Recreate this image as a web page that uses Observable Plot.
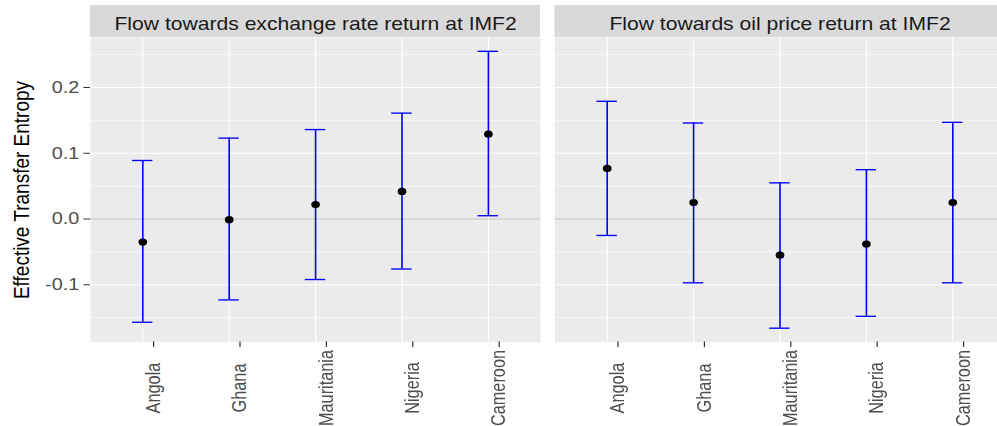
<!DOCTYPE html>
<html><head><meta charset="utf-8">
<script src="https://cdn.jsdelivr.net/npm/d3@7"></script>
<script src="https://cdn.jsdelivr.net/npm/@observablehq/plot@0.6"></script>
<style>
html,body{margin:0;padding:0;background:#fff;overflow:hidden;}
#chart{transform:scaleX(1.2);transform-origin:0 0;width:838px;height:426px;}
</style></head><body><div id="chart"></div>
<script>
const countries = ["Angola", "Ghana", "Mauritania", "Nigeria", "Cameroon"];
const panels = ["Flow towards exchange rate return at IMF2", "Flow towards oil price return at IMF2"];
const exchangeEst   = [-0.035, -0.001, 0.022, 0.042, 0.129];
const exchangeLower = [-0.157, -0.123, -0.092, -0.076, 0.005];
const exchangeUpper = [0.089, 0.123, 0.136, 0.161, 0.255];
const oilEst   = [0.077, 0.025, -0.055, -0.038, 0.025];
const oilLower = [-0.025, -0.097, -0.166, -0.148, -0.097];
const oilUpper = [0.179, 0.146, 0.055, 0.075, 0.147];
const yTicks = [-0.1, 0, 0.1, 0.2];
const yMinor = [-0.15, -0.05, 0.05, 0.15, 0.25];
const yTitle = "Effective Transfer Entropy";

const rows = [];
[[exchangeEst, exchangeLower, exchangeUpper], [oilEst, oilLower, oilUpper]].forEach(([e, l, u], p) =>
  countries.forEach((c, i) => rows.push({panel: panels[p], country: c, est: e[i], lower: l[i], upper: u[i]})));

const W = 838, H = 426;
const plot = Plot.plot({
  width: W, height: H,
  marginLeft: 75, marginRight: 0, marginTop: 37, marginBottom: 84.5,
  style: {fontFamily: '"Liberation Sans", Arial, sans-serif', fontSize: "16.5px", background: "white", color: "#4D4D4D", overflow: "visible"},
  fx: {domain: panels, paddingInner: 0.031, paddingOuter: 0},
  x: {type: "band", domain: countries, paddingInner: 0.76, paddingOuter: 0.48},
  y: {domain: [-0.187, 0.276]},
  marks: [
    Plot.frame({fill: "#EBEBEB", stroke: "none"}),
    Plot.gridY(yMinor, {stroke: "white", strokeOpacity: 1, strokeWidth: 0.6}),
    Plot.gridY(yTicks, {stroke: "white", strokeOpacity: 1, strokeWidth: 1.1}),
    Plot.gridX({stroke: "white", strokeOpacity: 1, strokeWidth: 0.95}),
    Plot.ruleY([0], {stroke: "#BEBEBE", strokeWidth: 1.1}),
    Plot.ruleX(rows, {fx: "panel", x: "country", y1: "lower", y2: "upper", stroke: "#0000FF", strokeWidth: 1.35}),
    Plot.tickY(rows, {fx: "panel", x: "country", y: "upper", stroke: "#0000FF", strokeWidth: 1.35}),
    Plot.tickY(rows, {fx: "panel", x: "country", y: "lower", stroke: "#0000FF", strokeWidth: 1.35}),
    Plot.dot(rows, {fx: "panel", x: "country", y: "est", r: 3.6, fill: "black", stroke: "none"}),
    Plot.axisY(yTicks, {tickFormat: d => d.toFixed(1), label: null, tickSize: 5.5, tickPadding: 4, stroke: "#333333", fill: "#4D4D4D", fontSize: 16.5}),
    Plot.axisX({tickSize: 5.5, tickRotate: -90, textAnchor: "middle", tickPadding: 40.5, dx: 9, label: null, stroke: "#333333", fill: "#4D4D4D", fontSize: 16.3}),
    Plot.axisFx({anchor: "top", label: null, tickSize: 0, tickPadding: 8, fontSize: 17.6, fill: "#1A1A1A"})
  ]
});

const svg = d3.select(plot);
const fxs = plot.scale("fx");
const strips = svg.insert("g", "g").attr("aria-label", "strips");
panels.forEach(p => {
  strips.append("rect")
    .attr("x", fxs.apply(p)).attr("y", 5)
    .attr("width", fxs.bandwidth).attr("height", 32)
    .attr("fill", "#D9D9D9");
});
svg.append("text")
  .attr("transform", "translate(23.8,190) rotate(-90)")
  .attr("text-anchor", "middle")
  .attr("fill", "#000000")
  .style("font-size", "19px")
  .text(yTitle);

document.getElementById("chart").appendChild(plot);
</script></body></html>
